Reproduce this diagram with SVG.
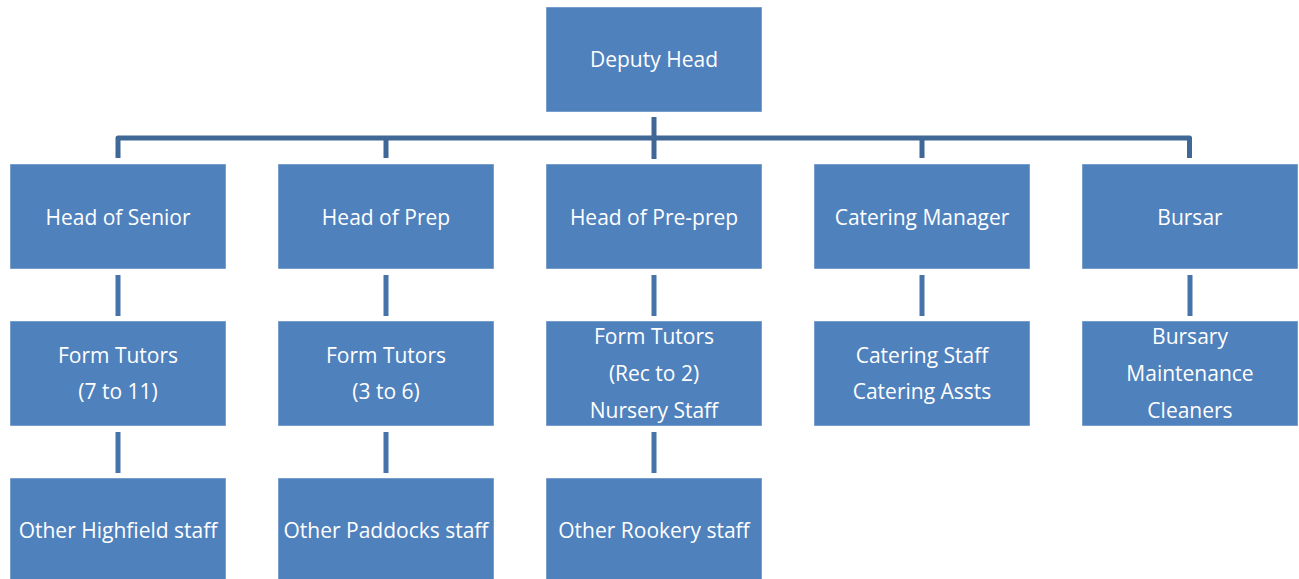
<svg xmlns="http://www.w3.org/2000/svg" width="1299" height="579" viewBox="0 0 1299 579">
<style>
.box{fill:#4F81BD;stroke:#ffffff;stroke-opacity:0.45;stroke-width:1}
.t{font-family:"Open Sans","Liberation Sans",sans-serif;font-size:21px;fill:#ffffff;text-anchor:middle}
.bracket{fill:none;stroke:#3F6897;stroke-width:5;stroke-linejoin:round}
.link{fill:none;stroke:#4673A9;stroke-width:5}
</style>
<rect width="1299" height="579" fill="#ffffff"/>
<g id="connectors">
<path class="bracket" d="M654,117 V159"/>
<path class="bracket" d="M118,158 V138 H1189.5 V158"/>
<path class="bracket" d="M386,138 V158 M922,138 V158"/>
<path class="link" d="M118,275 V316 M386,275 V316 M654,275 V316 M922,275 V316 M1190,275 V316"/>
<path class="link" d="M118,432 V473 M386,432 V473 M654,432 V473"/>
</g>
<g id="deputy-head"><rect class="box" x="546" y="7" width="216" height="105"/><text class="t" x="654" y="67">Deputy Head</text></g>
<g id="head-senior"><rect class="box" x="10" y="164" width="216" height="105"/><text class="t" x="118" y="225">Head of Senior</text></g>
<g id="head-prep"><rect class="box" x="278" y="164" width="216" height="105"/><text class="t" x="386" y="225">Head of Prep</text></g>
<g id="head-preprep"><rect class="box" x="546" y="164" width="216" height="105"/><text class="t" x="654" y="225">Head of Pre-prep</text></g>
<g id="catering-manager"><rect class="box" x="814" y="164" width="216" height="105"/><text class="t" x="922" y="225">Catering Manager</text></g>
<g id="bursar"><rect class="box" x="1082" y="164" width="216" height="105"/><text class="t" x="1190" y="225">Bursar</text></g>
<g id="form-tutors-senior"><rect class="box" x="10" y="321" width="216" height="105"/><text class="t" x="118" y="363">Form Tutors</text><text class="t" x="118" y="399">(7 to 11)</text></g>
<g id="form-tutors-prep"><rect class="box" x="278" y="321" width="216" height="105"/><text class="t" x="386" y="363">Form Tutors</text><text class="t" x="386" y="399">(3 to 6)</text></g>
<g id="form-tutors-preprep"><rect class="box" x="546" y="321" width="216" height="105"/><text class="t" x="654" y="344">Form Tutors</text><text class="t" x="654" y="381">(Rec to 2)</text><text class="t" x="654" y="418">Nursery Staff</text></g>
<g id="catering-staff"><rect class="box" x="814" y="321" width="216" height="105"/><text class="t" x="922" y="363">Catering Staff</text><text class="t" x="922" y="399">Catering Assts</text></g>
<g id="bursary"><rect class="box" x="1082" y="321" width="216" height="105"/><text class="t" x="1190" y="344">Bursary</text><text class="t" x="1190" y="381">Maintenance</text><text class="t" x="1190" y="418">Cleaners</text></g>
<g id="other-highfield"><rect class="box" x="10" y="478" width="216" height="110"/><text class="t" x="118" y="538">Other Highfield staff</text></g>
<g id="other-paddocks"><rect class="box" x="278" y="478" width="216" height="110"/><text class="t" x="386" y="538">Other Paddocks staff</text></g>
<g id="other-rookery"><rect class="box" x="546" y="478" width="216" height="110"/><text class="t" x="654" y="538">Other Rookery staff</text></g>
</svg>
